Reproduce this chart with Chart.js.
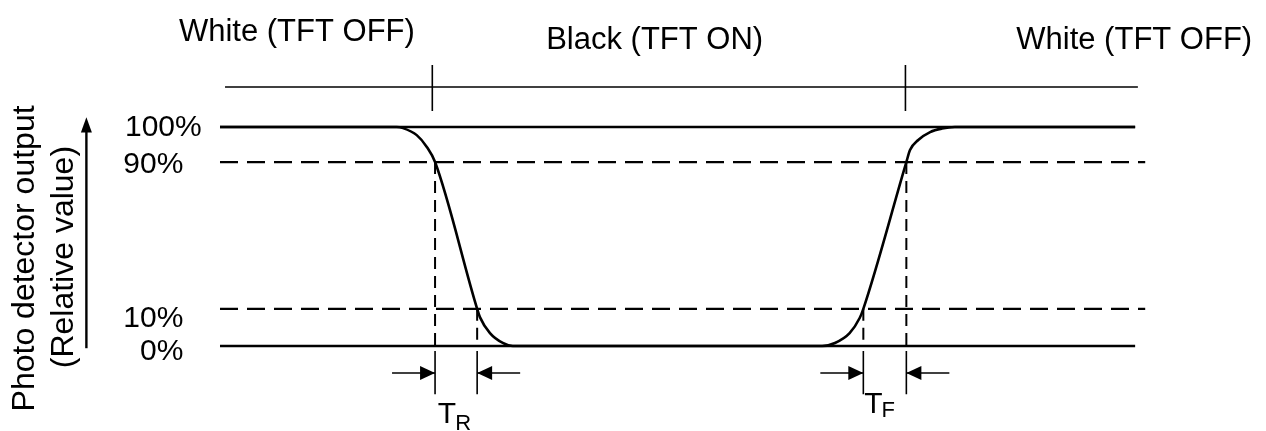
<!DOCTYPE html>
<html>
<head>
<meta charset="utf-8">
<script src="https://cdn.jsdelivr.net/npm/chart.js@4"></script>
<style>
  body { margin: 0; background: #fff; }
  #wrap { width: 1266px; height: 431px; }
</style>
</head>
<body>
<div id="wrap"><canvas id="responseChart" width="1266" height="431"></canvas></div>
<script>
// time axis in arbitrary units: 0 = start of trace, 100 = end of trace
const traceTime  = [0, 19.3, 20.0, 21.5, 22.6, 23.5, 28.1, 28.4, 29.5, 30.9, 32.0, 65.8, 67.2, 68.8, 69.9, 70.3, 75.0, 75.4, 76.3, 77.6, 78.9, 80.3, 100];
const traceLevel = [100, 100, 99.5, 96.3, 90.9, 84, 17, 13.2, 5.9, 1.4, 0, 0, 1.4, 5.9, 12.8, 17, 84, 89.5, 94.1, 97.7, 99.3, 100, 100];

// reference levels (diagram is schematic, so drawn heights are not to scale)
const levelLabels  = ['0%', '10%', '90%', '100%'];
const levelHeights = [0, 17, 84, 100];

// response time markers: TR between first pair, TF between second pair
const markerTimes  = [23.5, 28.1, 70.3, 75.0];
const markerLevels = [84, 17, 17, 84];
const markerNames  = ['R', 'F'];

// drive state bar above the trace
const stateLabels = ['White (TFT OFF)', 'Black (TFT ON)', 'White (TFT OFF)'];
const stateSwitch = [23.2, 74.9];

const BAR_Y = 118.3;
const ARROW_Y = -12.3;

function seg(x1, y1, x2, y2, opts) {
    return Object.assign({
        data: [{x: x1, y: y1}, {x: x2, y: y2}],
        showLine: true,
        borderColor: '#000',
        borderWidth: 1.6,
        pointRadius: 0,
        fill: false
    }, opts || {});
}

const datasets = [];

// reference level lines
levelHeights.forEach(function(h, i) {
    if (i === 0 || i === 3) {
        datasets.push(seg(0, h, 100, h, {borderWidth: 2.4}));
    } else {
        datasets.push(seg(0, h, 101.1, h, {borderWidth: 2.2, borderDash: [18, 9]}));
    }
});

// photo detector trace
datasets.push({
    data: traceTime.map(function(t, i) { return {x: t, y: traceLevel[i]}; }),
    showLine: true,
    borderColor: '#000',
    borderWidth: 2.6,
    pointRadius: 0,
    cubicInterpolationMode: 'monotone',
    fill: false
});

// marker verticals and arrows
markerTimes.forEach(function(t, i) {
    datasets.push(seg(t, markerLevels[i], t, 0, {borderWidth: 2, borderDash: [12, 7]}));
    datasets.push(seg(t, -2.3, t, -22, {borderWidth: 1.6}));
    const dir = (i % 2 === 0) ? -1 : 1;
    datasets.push(seg(t + dir * 4.7, ARROW_Y, t, ARROW_Y, {borderWidth: 1.6}));
});

// drive state bar
datasets.push(seg(0.55, BAR_Y, 100.3, BAR_Y, {borderWidth: 1.6}));
stateSwitch.forEach(function(t) {
    datasets.push(seg(t, 128.3, t, 107.3, {borderWidth: 1.6}));
});

const FONT = '"Liberation Sans", Arial, sans-serif';

const overlay = {
    id: 'overlay',
    afterDatasetsDraw(chart) {
        const ctx = chart.ctx;
        const xs = chart.scales.x, ys = chart.scales.y;
        const px = function(v) { return xs.getPixelForValue(v); };
        const py = function(v) { return ys.getPixelForValue(v); };
        ctx.save();
        ctx.fillStyle = '#000';
        ctx.strokeStyle = '#000';

        // arrow heads on the TR / TF markers
        markerTimes.forEach(function(t, i) {
            const dir = (i % 2 === 0) ? 1 : -1;
            const tx = px(t), ty = py(ARROW_Y);
            ctx.beginPath();
            ctx.moveTo(tx, ty);
            ctx.lineTo(tx - dir * 15, ty - 7);
            ctx.lineTo(tx - dir * 15, ty + 7);
            ctx.closePath();
            ctx.fill();
        });

        // axis arrow
        const ax = px(-14.6);
        ctx.lineWidth = 2.4;
        ctx.beginPath();
        ctx.moveTo(ax, py(-1));
        ctx.lineTo(ax, py(100));
        ctx.stroke();
        ctx.beginPath();
        ctx.moveTo(ax, py(104.5));
        ctx.lineTo(ax - 5.5, py(97.5));
        ctx.lineTo(ax + 5.5, py(97.5));
        ctx.closePath();
        ctx.fill();

        // state labels
        ctx.font = '31px ' + FONT;
        ctx.textAlign = 'center';
        ctx.textBaseline = 'middle';
        ctx.fillText(stateLabels[0], px(8.4), py(143.4));
        ctx.fillText(stateLabels[1], px(47.5), py(139.7));
        ctx.fillText(stateLabels[2], px(99.9), py(139.7));

        // level labels
        const labelY = [-2.7, 12.3, 82.6, 99.6];
        const labelX = [-4.0, -4.0, -4.0, -2.0];
        ctx.font = '30px ' + FONT;
        ctx.textAlign = 'right';
        levelLabels.forEach(function(lbl, i) {
            ctx.fillText(lbl, px(labelX[i]), py(labelY[i]));
        });

        // axis title, rotated
        ctx.font = '32px ' + FONT;
        ctx.textAlign = 'center';
        [['Photo detector output', -21.3, 40.0], ['(Relative value)', -17.0, 40.6]].forEach(function(r) {
            ctx.save();
            ctx.translate(px(r[1]), py(r[2]));
            ctx.rotate(-Math.PI / 2);
            ctx.fillText(r[0], 0, 0);
            ctx.restore();
        });

        // TR / TF labels
        ctx.textAlign = 'left';
        ctx.textBaseline = 'alphabetic';
        [[markerTimes[0] + 0.3, -35.2, 7], [markerTimes[2] + 0.1, -30.6, 4]].forEach(function(p, i) {
            const x0 = px(p[0]), y0 = py(p[1]);
            ctx.font = '30px ' + FONT;
            ctx.fillText('T', x0, y0);
            const w = ctx.measureText('T').width;
            ctx.font = '22px ' + FONT;
            ctx.fillText(markerNames[i], x0 + w - 1, y0 + p[2]);
        });

        ctx.restore();
    }
};

new Chart(document.getElementById('responseChart'), {
    type: 'scatter',
    data: { datasets: datasets },
    options: {
        responsive: false,
        animation: false,
        devicePixelRatio: 1,
        events: [],
        layout: { padding: 0 },
        plugins: {
            legend: { display: false },
            tooltip: { enabled: false }
        },
        scales: {
            x: { type: 'linear', min: -24.04, max: 114.3, display: false },
            y: { type: 'linear', min: -38.8, max: 158.0, display: false }
        }
    },
    plugins: [overlay]
});
</script>
</body>
</html>
